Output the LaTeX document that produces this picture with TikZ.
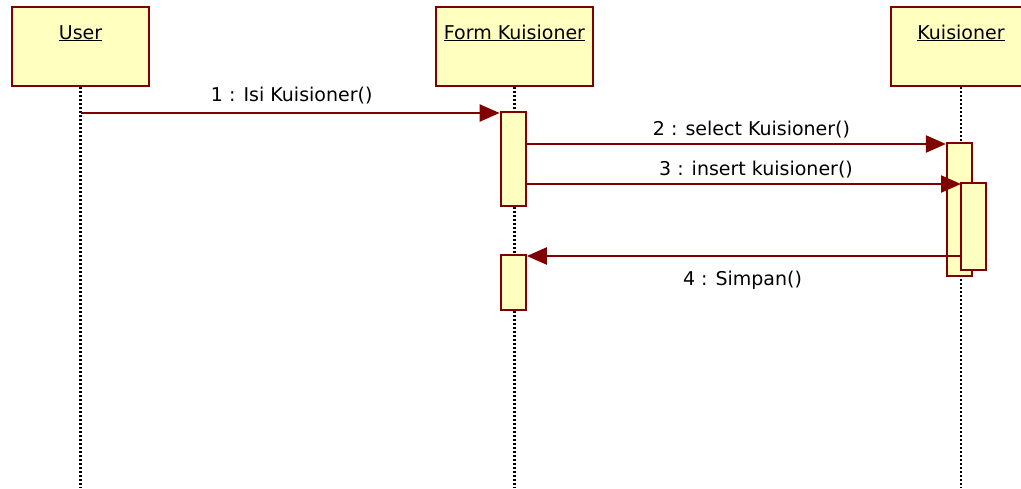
\documentclass[tikz,border=0pt]{standalone}
\usepackage{fontspec}
\setmainfont{DejaVu Sans}
\usetikzlibrary{arrows.meta}
\definecolor{umlred}{HTML}{800000}
\definecolor{umlfill}{HTML}{FFFFC0}
\begin{document}
\begin{tikzpicture}[x=1pt,y=-1pt,
  headbox/.style={draw=umlred, fill=umlfill, line width=2.4pt, minimum height=79pt, inner sep=0pt},
  actbox/.style={draw=umlred, fill=umlfill, line width=2.2pt, inner sep=0pt, minimum width=25pt},
  lifeline/.style={line width=2.4pt, dash pattern=on 2pt off 2pt, black},
  msg/.style={draw=umlred, line width=2.2pt, -{Triangle[length=20pt,width=17pt]}},
  lbl/.style={font=\fontsize{19}{19}\selectfont, inner sep=0pt, anchor=base}
]
\useasboundingbox (0,0) rectangle (1021,488);
\fill[white] (0,0) rectangle (1021,488);
% heads
\node[headbox, minimum width=137pt] (user) at (80.5,46.5) {};
\node[headbox, minimum width=157pt] (form) at (514.5,46.5) {};
\node[headbox, minimum width=140pt] (kuis) at (961,46.5) {};
\node[lbl] (userT) at (user.center |- 0,39) {\underline{User}};
\node[lbl] (formT) at (form.center |- 0,39) {\underline{Form Kuisioner}};
\node[lbl] (kuisT) at (kuis.center |- 0,39) {\underline{Kuisioner}};
% lifelines
\coordinate (bot) at (0,488);
\draw[lifeline] (user.south) -- (user.south |- bot);
\draw[lifeline] (form.south) -- (form.south |- bot);
\draw[lifeline] (kuis.south) -- (kuis.south |- bot);
% activations
\node[actbox, minimum height=94.3pt] (fA1) at (513.2,158.9) {};
\node[actbox, minimum height=55pt] (fA2) at (513.2,282.5) {};
\node[actbox, minimum height=133pt] (kA1) at (959.5,209.5) {};
% messages
\coordinate (m1s) at (81,113);
\coordinate (m2s) at (525.7,144);
\coordinate (m3s) at (525.7,184);
\draw[msg] (m1s) -- (m1s -| fA1.west);
\draw[msg] (m2s) -- (m2s -| kA1.west);
\draw[msg] (m3s) -- (m3s -| 961,0);
\node[actbox, minimum height=87pt] (kA2) at (973.5,226.5) {};
\coordinate (m4s) at (kA2.west |- 0,256);
\draw[msg] (m4s) -- (m4s -| fA2.east);
% labels
\node[lbl] (l1) at (291.7,101) {1 : Isi Kuisioner()};
\node[lbl] (l2) at (751.5,135) {2 : select Kuisioner()};
\node[lbl] (l3) at (756,175) {3 : insert kuisioner()};
\node[lbl] (l4) at (742.5,285) {4 : Simpan()};
\end{tikzpicture}
\end{document}
